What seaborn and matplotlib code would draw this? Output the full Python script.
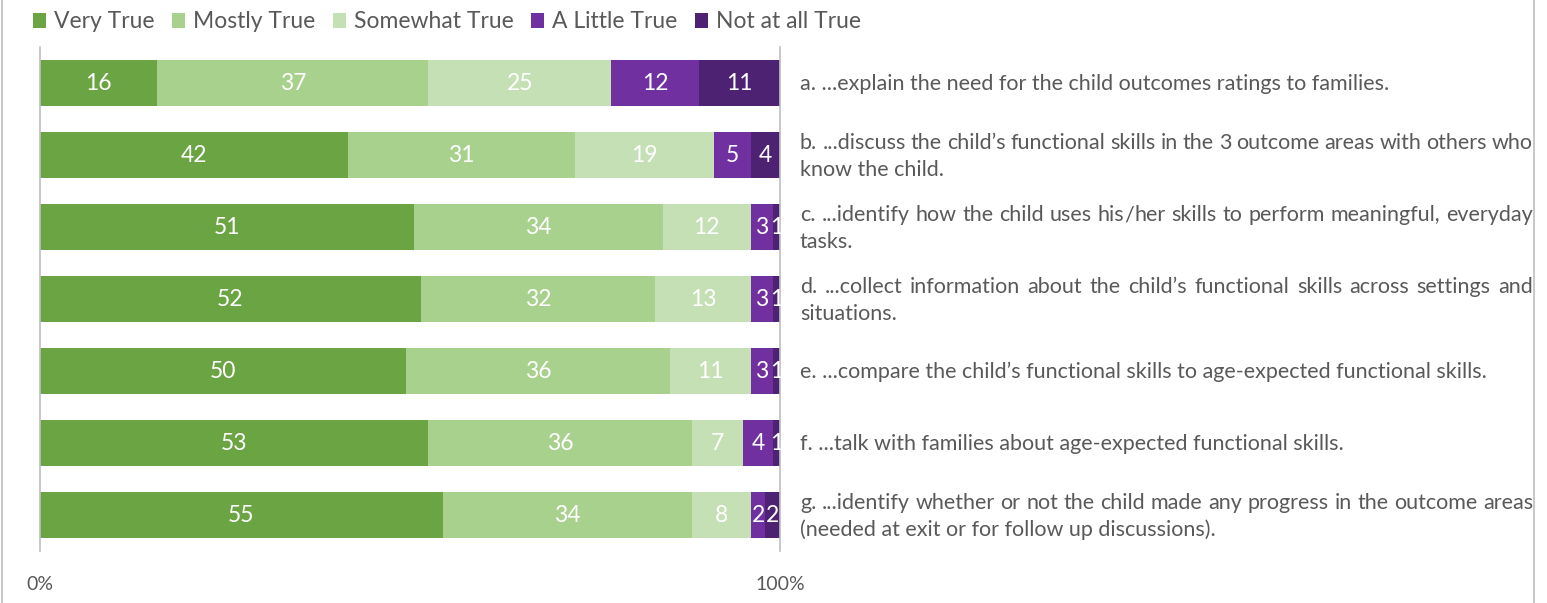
import re
import matplotlib
matplotlib.use("Agg")
import matplotlib.pyplot as plt
from matplotlib.patches import Patch
from matplotlib.lines import Line2D
import numpy as np
import pandas as pd
import seaborn as sns

# --- data -------------------------------------------------------------------
items = ["a", "b", "c", "d", "e", "f", "g"]
levels = ["Very True", "Mostly True", "Somewhat True", "A Little True", "Not at all True"]
very_true = [16, 42, 51, 52, 50, 53, 55]
mostly_true = [37, 31, 34, 32, 36, 36, 34]
somewhat_true = [25, 19, 12, 13, 11, 7, 8]
a_little_true = [12, 5, 3, 3, 3, 4, 2]
not_at_all_true = [11, 4, 1, 1, 1, 1, 2]

# statement text, already split into display lines
statements = [
    ["a. ...explain the need for the child outcomes ratings to families."],
    ["b. ...discuss the child\u2019s functional skills in the 3 outcome areas with others who",
     "know the child."],
    ["c. ...identify how the child uses his/her skills to perform meaningful, everyday",
     "tasks."],
    ["d. ...collect information about the child\u2019s functional skills across settings and",
     "situations."],
    ["e. ...compare the child\u2019s functional skills to age-expected functional skills."],
    ["f. ...talk with families about age-expected functional skills."],
    ["g. ...identify whether or not the child made any progress in the outcome areas",
     "(needed at exit or for follow up discussions)."],
]

colors = ["#6AA443", "#A9D18E", "#C5E0B4", "#7030A0", "#4E2273"]
TEXT_GRAY = "#595959"
LINE_GRAY = "#BFBFBF"

# --- tidy table with 100% stacking ---------------------------------------------
counts = np.array([very_true, mostly_true, somewhat_true, a_little_true, not_at_all_true], dtype=float)
pct = counts / counts.sum(axis=0) * 100
cum = np.cumsum(pct, axis=0)
rows = []
for li, lev in enumerate(levels):
    for ii, it in enumerate(items):
        rows.append(dict(item=it, level=lev, value=int(counts[li, ii]),
                         pct=pct[li, ii], right=cum[li, ii], left=cum[li, ii] - pct[li, ii]))
df = pd.DataFrame(rows)

# --- figure -------------------------------------------------------------------
sns.set_theme(style="white")
plt.rcParams["font.family"] = ["Lato", "DejaVu Sans"]

W, H = 1547, 603
fig = plt.figure(figsize=(W / 100, H / 100), dpi=100)
ax = fig.add_axes([40 / W, 1 - 551 / H, 740 / W, 504 / H])

# stacked bars: draw cumulative totals from the widest down
for li in range(len(levels) - 1, -1, -1):
    sub = df[df.level == levels[li]]
    sns.barplot(data=sub, x="right", y="item", order=items, orient="h",
                color=colors[li], saturation=1, width=0.65, errorbar=None,
                linewidth=0, ax=ax)

ax.set_xlim(0, 100)
ax.set_ylim(6.5, -0.5)
ax.set_xlabel("")
ax.set_ylabel("")
ax.set_yticks([])
ax.set_xticks([0, 100])
ax.set_xticklabels(["0%", "100%"])
ax.tick_params(axis="x", length=0, pad=18, labelsize=14, labelcolor=TEXT_GRAY)
for s in ["top", "bottom"]:
    ax.spines[s].set_visible(False)
for s in ["left", "right"]:
    ax.spines[s].set_color(LINE_GRAY)
    ax.spines[s].set_linewidth(1.2)

# value labels in the middle of each segment
for _, r in df.iterrows():
    yi = items.index(r["item"])
    ax.text((r["left"] + r["right"]) / 2, yi, str(r["value"]), ha="center", va="center",
            color="white", fontsize=16.5)

# legend
handles = [Patch(facecolor=c, edgecolor="none") for c in colors]
fig.legend(handles, levels, loc="center left", bbox_to_anchor=(33 / W, 1 - 22 / H),
           ncol=5, frameon=False, fontsize=16.5, handlelength=0.58, handleheight=0.58,
           handletextpad=0.35, columnspacing=0.75, labelcolor=TEXT_GRAY, borderaxespad=0,
           borderpad=0)

# statements on the right, wrapped lines justified to the right margin
fig.canvas.draw()
renderer = fig.canvas.get_renderer()
x0_px, x1_px = 800, 1533
inv = fig.transFigure.inverted()
label_kw = dict(fontsize=15.5, color=TEXT_GRAY, va="baseline", ha="left")


def to_fig(x, y):
    return inv.transform((x, y))


def place_word(word, x, y):
    """Draw one word (slashes as separate pieces) starting at pixel x; return its width."""
    width = 0.0
    for piece in [p for p in re.split(r"(/)", word) if p]:
        fx, fy = to_fig(x + width, y)
        t = fig.text(fx, fy, piece, **label_kw)
        width += t.get_window_extent(renderer).width
    return width


def word_width(word):
    width = 0.0
    for piece in [p for p in re.split(r"(/)", word) if p]:
        t = fig.text(0, 0, piece, **label_kw)
        width += t.get_window_extent(renderer).width
        t.remove()
    return width


for i, lines in enumerate(statements):
    yc = ax.transData.transform((0, i))[1]
    # baseline offsets below the bar centre, in pixels
    offs = [7] if len(lines) == 1 else [-6, 21]
    for k, line in enumerate(lines):
        ypx = yc - offs[k]
        justify = len(lines) > 1 and k == 0
        if not justify:
            fx, fy = to_fig(x0_px, ypx)
            fig.text(fx, fy, line, **label_kw)
            continue
        words = line.split(" ")
        widths = [word_width(w) for w in words]
        gap = (x1_px - x0_px - sum(widths)) / (len(words) - 1)
        x = x0_px
        for w, wd in zip(words, widths):
            place_word(w, x, ypx)
            x += wd + gap

# thin frame lines at the figure's left and right
fig.add_artist(Line2D([1.5 / W, 1.5 / W], [0, 1], color=LINE_GRAY, lw=1.2))
fig.add_artist(Line2D([1534 / W, 1534 / W], [0, 1], color=LINE_GRAY, lw=1.2))

fig.savefig("out.png", dpi=100, facecolor="white")
